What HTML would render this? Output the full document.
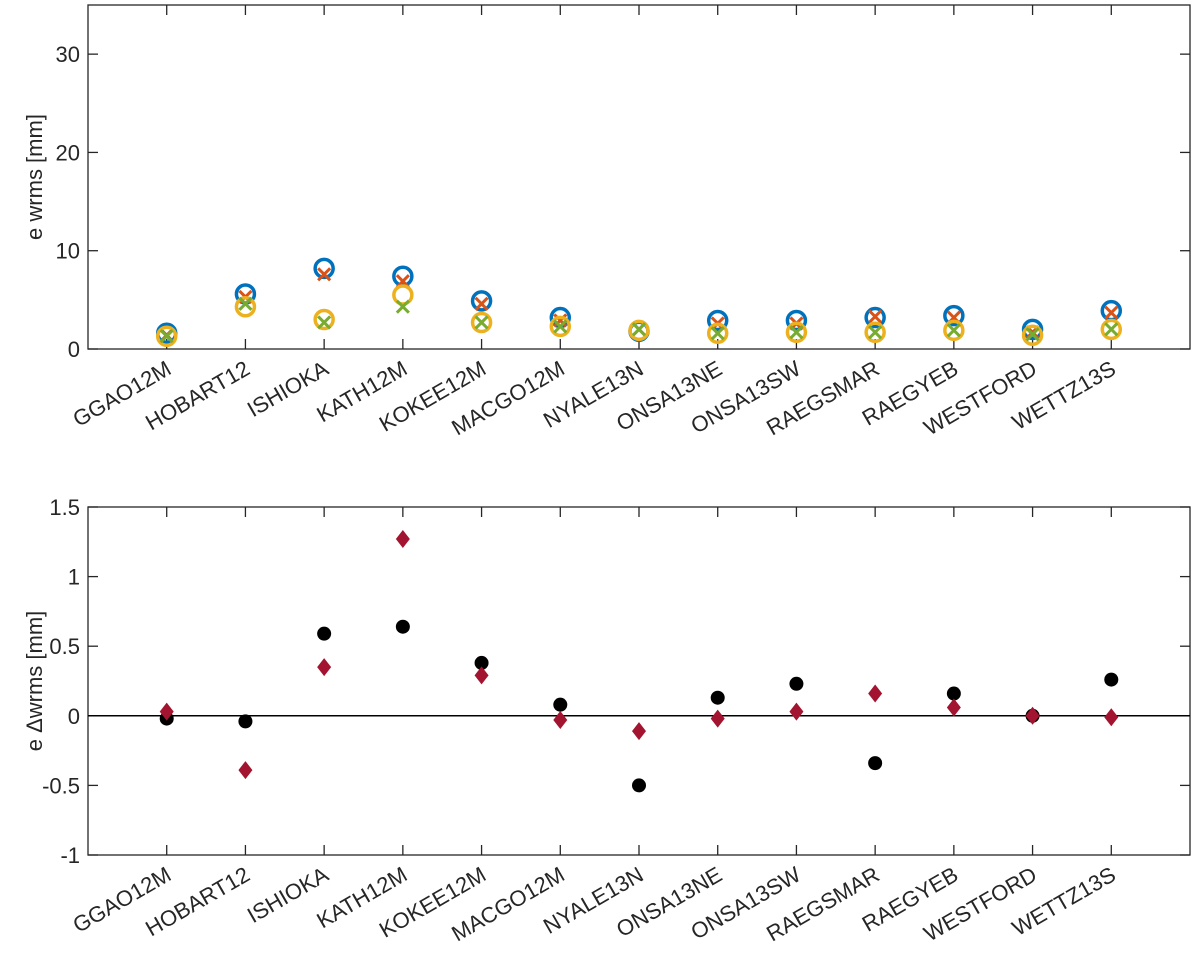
<!DOCTYPE html>
<html><head><meta charset="utf-8"><style>
body{margin:0;background:#fff;}
svg{display:block;font-family:"Liberation Sans",sans-serif;}
</style></head><body>
<svg id="c" width="1200" height="967"></svg>
<script>
const categories=["GGAO12M","HOBART12","ISHIOKA","KATH12M","KOKEE12M","MACGO12M","NYALE13N","ONSA13NE","ONSA13SW","RAEGSMAR","RAEGYEB","WESTFORD","WETTZ13S"];
const blueO=[1.6,5.6,8.2,7.4,4.9,3.2,1.8,2.9,2.9,3.2,3.4,2.0,3.9];
const redX=[1.4,5.3,7.6,6.9,4.6,2.9,2.0,2.6,2.6,3.3,3.2,1.7,3.7];
const yellowO=[1.3,4.3,3.0,5.5,2.7,2.3,1.9,1.6,1.7,1.7,1.9,1.4,2.0];
const greenX=[1.3,4.6,2.7,4.3,2.7,2.3,2.0,1.6,1.7,1.7,1.9,1.5,2.0];
const blackDot=[-0.02,-0.04,0.59,0.64,0.38,0.08,-0.5,0.13,0.23,-0.34,0.16,0.0,0.26];
const redDiamond=[0.03,-0.39,0.35,1.27,0.29,-0.03,-0.11,-0.02,0.03,0.16,0.06,0.0,-0.01];
const topTicks=[0,10,20,30];
const botTicks=[-1,-0.5,0,0.5,1,1.5];
const botTickLabels=["-1","-0.5","0","0.5","1","1.5"];

const NS="http://www.w3.org/2000/svg";
const svg=document.getElementById('c');
function mk(t,a,p){const e=document.createElementNS(NS,t);for(const k in a)e.setAttribute(k,a[k]);(p||svg).appendChild(e);return e;}
const X0=88,X1=1190;
const xs=i=>X0+(i+1)*(X1-X0)/14;

function axes(name,top,bot,vmin,vmax,ticks,labels,ylabel){
  const g=mk('g',{});
  
  
  const ys=v=>bot-(v-vmin)/(vmax-vmin)*(bot-top);
  mk('rect',{x:X0,y:top,width:X1-X0,height:bot-top,fill:'none',stroke:'#262626','stroke-width':1.3},g);
  ticks.forEach((t,i)=>{
    const y=ys(t);
    mk('line',{x1:X0,x2:X0+10,y1:y,y2:y,stroke:'#262626','stroke-width':1.3},g);
    mk('line',{x1:X1,x2:X1-10,y1:y,y2:y,stroke:'#262626','stroke-width':1.3},g);
    const tx=mk('text',{x:X0-8,y:y+8,'text-anchor':'end','font-size':22,fill:'#262626'},g);
    tx.textContent=labels[i];
    
    
  });
  categories.forEach((c,i)=>{
    const x=xs(i);
    mk('line',{x1:x,x2:x,y1:bot,y2:bot-10,stroke:'#262626','stroke-width':1.3},g);
    mk('line',{x1:x,x2:x,y1:top,y2:top+10,stroke:'#262626','stroke-width':1.3},g);
    const tx=mk('text',{x:x+6,y:bot+24,'text-anchor':'end','font-size':22,fill:'#262626',transform:`rotate(-30 ${x+6} ${bot+24})`},g);
    tx.textContent=c;
    
    
  });
  const yl=mk('text',{x:0,y:0,'text-anchor':'middle','font-size':22,fill:'#262626',transform:`translate(42 ${(top+bot)/2}) rotate(-90)`},g);
  yl.textContent=ylabel;
  
  
  return ys;
}
const ysT=axes('top-axes',5,349,0,35,topTicks,topTicks.map(String),'e wrms [mm]');
const ysB=axes('bottom-axes',507,855,-1,1.5,botTicks,botTickLabels,'e \u0394wrms [mm]');
mk('line',{x1:X0,x2:X1,y1:ysB(0),y2:ysB(0),stroke:'#000','stroke-width':1.5});

function circles(arr,col,name){arr.forEach((v,i)=>{const e=mk('circle',{cx:xs(i),cy:ysT(v),r:9,fill:'none',stroke:col,'stroke-width':3.5});

});}
function crosses(arr,col,name){arr.forEach((v,i)=>{const x=xs(i),y=ysT(v),d=6;const e=mk('path',{d:`M${x-d} ${y-d}L${x+d} ${y+d}M${x-d} ${y+d}L${x+d} ${y-d}`,stroke:col,'stroke-width':3,fill:'none'});

});}
circles(blueO,'#0072BD','blue-circle');
crosses(redX,'#D95319','red-cross');
circles(yellowO,'#EDB120','yellow-circle');
crosses(greenX,'#77AC30','green-cross');

blackDot.forEach((v,i)=>{const e=mk('circle',{cx:xs(i),cy:ysB(v),r:7,fill:'#000'});

});
redDiamond.forEach((v,i)=>{const x=xs(i),y=ysB(v);const e=mk('path',{d:`M${x} ${y-9}L${x+7} ${y}L${x} ${y+9}L${x-7} ${y}Z`,fill:'#A2142F'});

});
</script>
</body></html>
